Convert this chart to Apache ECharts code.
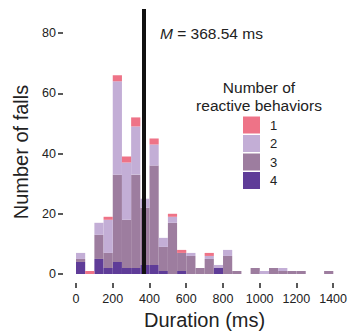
<!DOCTYPE html>
<html>
<head>
<meta charset="utf-8">
<script src="https://cdn.jsdelivr.net/npm/echarts@6/dist/echarts.min.js"></script>
<style>
html,body{margin:0;padding:0;background:#fff;}
#c{width:350px;height:335px;}
</style>
</head>
<body>
<div id="c"></div>
<script>
// 50 ms bins from 0 to 1400 ms
var binLabels = ['0-50','50-100','100-150','150-200','200-250','250-300','300-350','350-400','400-450','450-500','500-550','550-600','600-650','650-700','700-750','750-800','800-850','850-900','900-950','950-1000','1000-1050','1050-1100','1100-1150','1150-1200','1200-1250','1250-1300','1300-1350','1350-1400'];
var behaviors1 = [0,1,0,1,2,2,3,0,2,0,1,1,0,0,1,0,0,0,0,0,0,0,0,0,0,0,0,0];
var behaviors2 = [2,0,4,11,31,19,16,3,7,3,2,0,1,0,1,1,2,0,0,0,1,0,1,0,0,0,0,0];
var behaviors3 = [1,0,8,5,29,16,31,19,33,8,17,6,6,2,5,0,6,1,0,2,0,2,1,1,1,0,0,1];
var behaviors4 = [4,0,5,2,4,2,2,3,3,1,0,1,0,0,0,2,0,0,0,0,0,0,0,0,0,0,0,0];
var meanDuration = 368.54;
var xTicks = [0,200,400,600,800,1000,1200,1400];
var yTicks = [0,20,40,60,80];
var legendNames = ['1','2','3','4'];

var colors = {'1':'#ee7387','2':'#c3aed6','3':'#9d7d9f','4':'#5f3c98'};
var FONT = 'Liberation Sans, Arial, Helvetica, sans-serif';
var TXT = '#222';

var chart = echarts.init(document.getElementById('c'), null, {renderer:'svg'});

function barSeries(name, data){
  return {
    name: name, type:'bar', stack:'all', data:data,
    xAxisIndex:0, yAxisIndex:0,
    barWidth:'100%', barCategoryGap:'0%',
    itemStyle:{color:colors[name]},
    emphasis:{disabled:true}, animation:false
  };
}

var option = {
  animation:false,
  grid:[
    {left:76, right:16.7, top:9, bottom:61},   // bars
    {left:63, right:16.7, top:9, bottom:61},   // y axis (offset to the left)
    {left:76, right:16.7, top:9, bottom:50}    // x axis (offset downward)
  ],
  xAxis:[
    {gridIndex:0, type:'category', data:binLabels, boundaryGap:true, show:false},
    {gridIndex:0, type:'value', min:0, max:1400, show:false},
    {gridIndex:1, type:'value', min:0, max:1400, show:false},
    {gridIndex:2, type:'value', min:0, max:1400, interval:200, position:'bottom',
     name:'Duration (ms)', nameLocation:'middle', nameGap:26,
     nameTextStyle:{fontSize:20, color:TXT, fontFamily:FONT},
     axisLine:{show:false},
     axisTick:{show:true, length:5, inside:false, lineStyle:{color:TXT, width:1.5}},
     axisLabel:{fontSize:12.5, color:TXT, margin:9, fontFamily:FONT,
       formatter:function(v){return String(v);}},
     splitLine:{show:false}}
  ],
  yAxis:[
    {gridIndex:0, type:'value', min:0, max:88, show:false},
    {gridIndex:1, type:'value', min:0, max:88, position:'left',
     axisLine:{show:false},
     axisTick:{show:true, length:5, inside:false, customValues:yTicks, lineStyle:{color:TXT, width:1.5}},
     axisLabel:{fontSize:12.5, color:TXT, margin:7, fontFamily:FONT, customValues:yTicks},
     splitLine:{show:false}},
    {gridIndex:2, type:'value', min:0, max:88, show:false}
  ],
  legend:{
    data:legendNames, orient:'vertical', left:243, top:116.5, padding:0,
    itemWidth:17, itemHeight:17, itemGap:1.5, icon:'rect',
    textStyle:{fontSize:13, color:TXT, fontFamily:FONT, padding:[0,0,0,5]},
    selectedMode:false
  },
  series:[
    barSeries('4', behaviors4),
    barSeries('3', behaviors3),
    barSeries('2', behaviors2),
    barSeries('1', behaviors1),
    {type:'line', xAxisIndex:1, yAxisIndex:0, data:[], silent:true,
     markLine:{symbol:'none', silent:true, animation:false,
       label:{show:false},
       lineStyle:{color:'#111', width:4, type:'solid'},
       data:[{xAxis:meanDuration}]}}
  ],
  graphic:[
    {type:'text', left:160, top:25, style:{
      text:'{i|M} = 368.54 ms', fill:TXT, font:'15.5px '+FONT,
      rich:{i:{fontStyle:'italic', fontSize:15.5, fontFamily:FONT, fill:TXT}}}},
    {type:'text', x:259, y:79, style:{
      text:'Number of\nreactive behaviors', align:'center', fill:TXT,
      font:'15.5px '+FONT, lineHeight:17.5}},
    {type:'text', x:21, y:152, rotation:Math.PI/2, style:{
      text:'Number of falls', align:'center', verticalAlign:'middle', fill:TXT,
      font:'20px '+FONT}}
  ]
};
chart.setOption(option);
</script>
</body>
</html>
